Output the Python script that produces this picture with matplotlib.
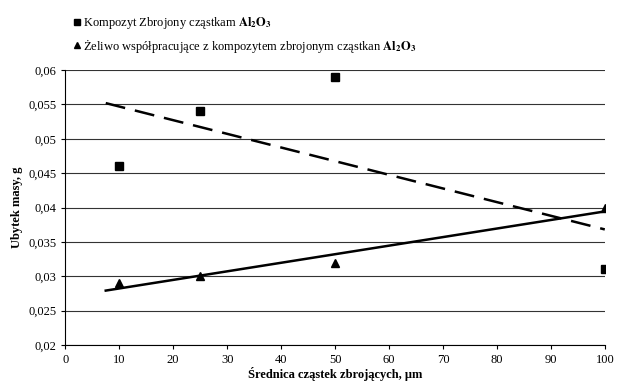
import numpy as np
import matplotlib
matplotlib.use('Agg')
import matplotlib.pyplot as plt
import matplotlib.ticker as mticker
from matplotlib.lines import Line2D

plt.rcParams['font.family'] = ['Liberation Serif', 'DejaVu Serif']
plt.rcParams['mathtext.fontset'] = 'stix'

# particle diameter, um
x_vals = [10, 25, 50, 100]
# mass loss, g
composite = [0.046, 0.054, 0.059, 0.031]
cast_iron = [0.029, 0.030, 0.032, 0.040]

label_comp = r'Kompozyt Zbrojony cząstkam $\mathbf{Al_2O_3}$'
label_iron = r'Żeliwo współpracujące z kompozytem zbrojonym cząstkan $\mathbf{Al_2O_3}$'

fig = plt.figure(figsize=(6.4, 3.83), dpi=100)
ax = fig.add_axes([0.102, 0.099, 0.843, 0.718])

ax.plot(x_vals, composite, 's', color='black', markersize=5.5, zorder=3)
ax.plot(x_vals, cast_iron, '^', color='black', markersize=5.5, zorder=3)

# linear trend lines, backward forecast 2.5
xt = np.array([7.5, 100])
p1 = np.polyfit(x_vals, composite, 1)
p2 = np.polyfit(x_vals, cast_iron, 1)
ax.plot(xt, np.polyval(p1, xt), color='black', lw=1.8, dashes=(8, 4))
ax.plot(xt, np.polyval(p2, xt), color='black', lw=1.8)

ax.set_xlim(0, 100)
ax.set_ylim(0.02, 0.06)
ax.set_xticks(np.arange(0, 101, 10))
ax.set_yticks(np.arange(0.02, 0.0601, 0.005))
ax.yaxis.set_major_formatter(mticker.FuncFormatter(
    lambda v, p: ('%.3f' % v).rstrip('0').replace('.', ',')))
ax.grid(axis='y', color='#333333', lw=0.8)
ax.set_axisbelow(True)
for s in ['top', 'right']:
    ax.spines[s].set_visible(False)
ax.tick_params(labelsize=9, length=3, width=0.8)

ax.set_xlabel('Średnica cząstek zbrojących, μm', fontsize=9, fontweight='bold', labelpad=1)
ax.set_ylabel('Ubytek masy, g', fontsize=9, fontweight='bold', labelpad=4)

handles = [Line2D([], [], marker='s', color='black', ls='none', markersize=5),
           Line2D([], [], marker='^', color='black', ls='none', markersize=5)]
fig.legend(handles, [label_comp, label_iron], loc='upper left',
           bbox_to_anchor=(0.093, 0.99), frameon=False, fontsize=9,
           handletextpad=0.0, handlelength=1.0, labelspacing=0.45)

fig.savefig('out.png', dpi=100)
